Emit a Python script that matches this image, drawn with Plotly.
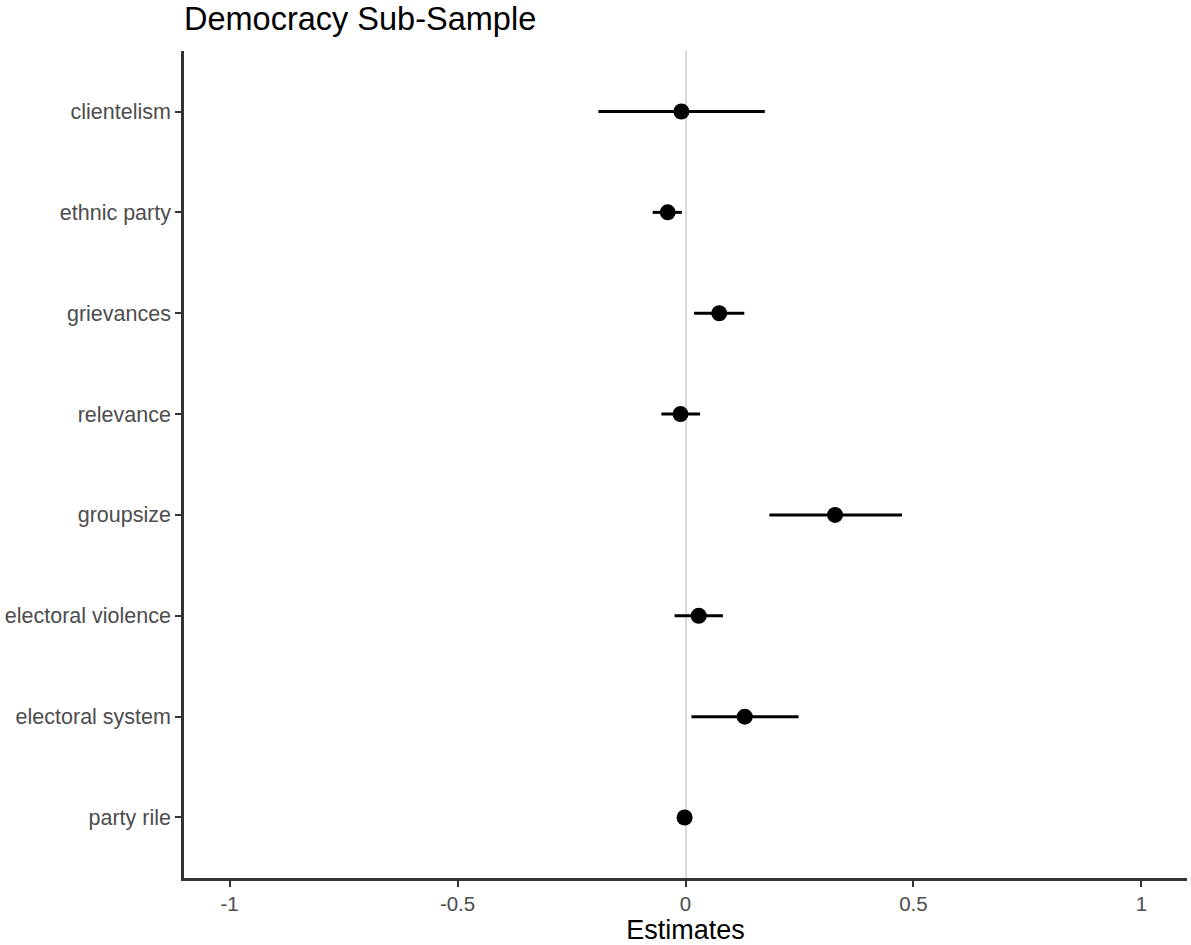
import plotly.graph_objects as go

terms = ["clientelism", "ethnic party", "grievances", "relevance", "groupsize",
         "electoral violence", "electoral system", "party rile"]
estimate = [-0.009, -0.039, 0.074, -0.011, 0.328, 0.029, 0.130, -0.002]
conf_low = [-0.191, -0.072, 0.019, -0.053, 0.184, -0.024, 0.013, -0.008]
conf_high = [0.174, -0.008, 0.129, 0.032, 0.475, 0.082, 0.248, 0.004]
x_ticks = [-1, -0.5, 0, 0.5, 1]
x_tick_labels = ["-1", "-0.5", "0", "0.5", "1"]

err_plus = [h - e for h, e in zip(conf_high, estimate)]
err_minus = [e - l for e, l in zip(estimate, conf_low)]

FONT = "Liberation Sans, Arial, Helvetica, sans-serif"

fig = go.Figure()
fig.add_trace(go.Scatter(
    x=estimate, y=terms, mode="markers",
    marker=dict(color="black", size=16),
    error_x=dict(type="data", array=err_plus, arrayminus=err_minus,
                 color="black", thickness=3, width=0, symmetric=False),
    showlegend=False,
))

fig.update_layout(
    width=1191, height=945, autosize=False,
    paper_bgcolor="white", plot_bgcolor="white",
    margin=dict(l=184, r=4, t=51, b=67),
    font=dict(family=FONT),
    title=dict(text="Democracy Sub-Sample", x=0, xref="paper", xanchor="left",
               y=1 - 19 / 945, yref="container", yanchor="middle",
               font=dict(size=32.5, color="black", family=FONT)),
)
fig.update_xaxes(
    range=[-1.1, 1.1], tickvals=x_ticks, ticktext=x_tick_labels,
    showgrid=False, zeroline=True, zerolinecolor="#D9D9D9", zerolinewidth=2,
    showline=True, linecolor="#333333", linewidth=2.5,
    ticks="outside", ticklen=6, tickwidth=2, tickcolor="#333333",
    tickfont=dict(size=20.5, color="#4D4D4D", family=FONT),
    title=dict(text="Estimates", font=dict(size=27, color="black", family=FONT), standoff=6),
)
fig.update_yaxes(
    categoryorder="array", categoryarray=list(reversed(terms)),
    range=[-0.6, 7.6],
    showgrid=False, zeroline=False,
    showline=True, linecolor="#333333", linewidth=2.5,
    ticks="outside", ticklen=6, tickwidth=2, tickcolor="#333333",
    tickfont=dict(size=21.5, color="#4D4D4D", family=FONT),
)

fig.write_html("out.html", config={"displayModeBar": False},
               post_script="document.body.style.margin='0';document.body.style.overflow='hidden';")
